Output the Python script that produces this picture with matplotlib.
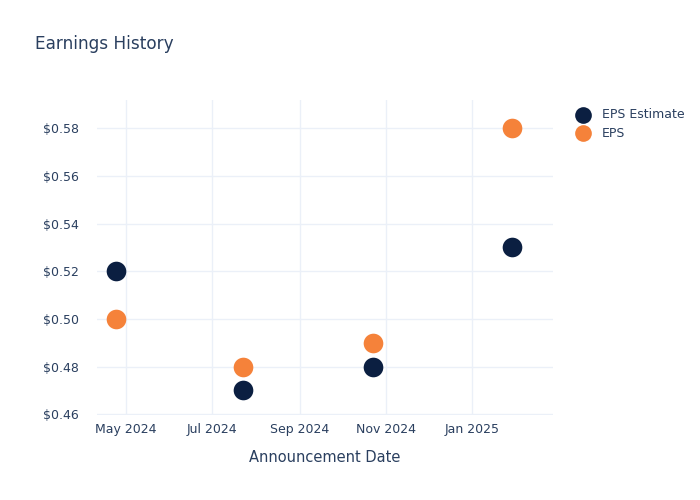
import matplotlib
matplotlib.use("Agg")
from matplotlib import pyplot as plt
import matplotlib.dates as mdates
from matplotlib.ticker import FuncFormatter
import numpy as np
import pandas as pd

dates = pd.to_datetime(["2024-04-24", "2024-07-23", "2024-10-23", "2025-01-29"])
eps_estimate = [0.52, 0.47, 0.48, 0.53]
eps_actual = [0.50, 0.48, 0.49, 0.58]
tick_dates = pd.to_datetime(["2024-05-01", "2024-07-01", "2024-09-01", "2024-11-01", "2025-01-01"])
y_ticks = [0.46, 0.48, 0.50, 0.52, 0.54, 0.56, 0.58]

navy = "#0b1f41"
orange = "#f5823a"
text_col = "#2a3f5f"
grid_col = "#ebf0f8"

fig = plt.figure(figsize=(7, 5), dpi=100)
ax = fig.add_axes([0.139, 0.17, 0.651, 0.63])

ax.scatter(dates, eps_estimate, s=200, color=navy, zorder=3, label="EPS Estimate", linewidths=0)
ax.scatter(dates, eps_actual, s=200, color=orange, zorder=3, label="EPS", linewidths=0)

ax.set_xlim(pd.Timestamp("2024-04-11"), pd.Timestamp("2025-02-27"))
ax.set_ylim(0.4597, 0.5918)
ax.set_xticks(tick_dates)
ax.xaxis.set_major_formatter(mdates.DateFormatter("%b %Y"))
ax.set_yticks(y_ticks)
ax.yaxis.set_major_formatter(FuncFormatter(lambda v, p: "$%.2f" % v))

ax.grid(True, color=grid_col, linewidth=1)
ax.set_axisbelow(True)
for sp in ax.spines.values():
    sp.set_visible(False)
ax.tick_params(length=0, labelsize=9, colors=text_col, pad=6)
ax.tick_params(axis="y", pad=13)
ax.set_xlabel("Announcement Date", fontsize=10.5, color=text_col, labelpad=10)

fig.text(0.05, 0.912, "Earnings History", fontsize=12.2, color=text_col, va="center")

ax.legend(loc="upper left", bbox_to_anchor=(1.027, 0.99), frameon=False, fontsize=9,
          labelcolor=text_col, handletextpad=0.5, borderaxespad=0, labelspacing=0.45,
          markerscale=0.85)

fig.savefig("out.png", dpi=100)
